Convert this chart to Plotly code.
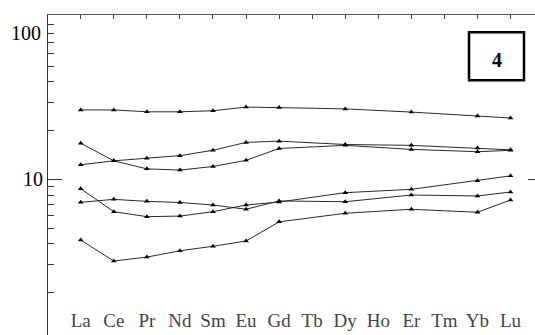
import math
import plotly.graph_objects as go

elements = ["La", "Ce", "Pr", "Nd", "Sm", "Eu", "Gd", "Tb", "Dy", "Ho", "Er", "Tm", "Yb", "Lu"]
# Tb, Ho, Tm not analysed (None = gap bridged)
series_a = [26.8, 26.8, 26.1, 26.1, 26.5, 27.9, 27.7, None, 27.2, None, 26.0, None, 24.6, 23.9]
series_b = [16.7, 13.0, 11.6, 11.4, 12.0, 13.1, 15.5, None, 16.2, None, 15.3, None, 14.8, 15.1]
series_c = [12.3, 13.0, 13.5, 14.0, 15.1, 16.9, 17.2, None, 16.4, None, 16.2, None, 15.6, 15.2]
series_d = [8.75, 6.31, 5.88, 5.93, 6.31, 6.94, 7.24, None, 8.27, None, 8.67, None, 9.80, 10.5]
series_e = [7.21, 7.52, 7.31, 7.19, 6.94, 6.53, 7.35, None, 7.27, None, 8.00, None, 7.89, 8.35]
series_f = [4.22, 3.13, 3.31, 3.62, 3.86, 4.16, 5.46, None, 6.17, None, 6.53, None, 6.26, 7.45]
all_series = [series_a, series_b, series_c, series_d, series_e, series_f]

y_major = [10]
y_minor = [2, 3, 4, 5, 6, 7, 8, 9, 20, 30, 40, 50, 60, 70, 80, 90]
panel_label = "4"

FONT = "Liberation Serif, Times New Roman, serif"
idx = list(range(len(elements)))

fig = go.Figure()
for s in all_series:
    fig.add_trace(go.Scatter(
        x=idx, y=s, mode="lines+markers", connectgaps=True,
        line=dict(color="#2a2a2a", width=1),
        marker=dict(symbol="triangle-up", size=5, color="black"),
        showlegend=False, hoverinfo="skip"))
# invisible trace to anchor top x axis / right y axis
fig.add_trace(go.Scatter(x=[0], y=[10], xaxis="x2", yaxis="y2", mode="markers",
                         marker=dict(opacity=0), showlegend=False, hoverinfo="skip"))

yr = [1 - 155.7 / 162, 1 + 164.3 / 162]
xr = [-0.99, 13.74]

fig.update_layout(
    width=535, height=335,
    margin=dict(l=48, r=0, t=15, b=0, autoexpand=False),
    paper_bgcolor="white", plot_bgcolor="white",
    font=dict(family=FONT, color="black"),
    xaxis=dict(range=xr, tickmode="array", tickvals=idx, ticktext=elements,
               showgrid=False, zeroline=False, showline=False, ticks="",
               automargin=False, ticklabelposition="inside", ticklabelstandoff=1,
               tickfont=dict(size=19, family=FONT)),
    xaxis2=dict(range=xr, overlaying="x", side="top", anchor="y", tickmode="array",
                tickvals=idx, showticklabels=False, ticks="inside", ticklen=4,
                tickcolor="#444", showline=True, linecolor="#555", linewidth=1,
                showgrid=False, zeroline=False, automargin=False),
    yaxis=dict(type="log", range=yr, tickmode="array", tickvals=y_major,
               ticktext=["10"], ticks="inside", ticklen=14, tickcolor="#333",
               showline=True, linecolor="#333", linewidth=1, showgrid=False,
               zeroline=False, automargin=False, tickfont=dict(size=20, family=FONT),
               minor=dict(tickvals=y_minor, ticks="inside", ticklen=6, tickcolor="#333", showgrid=False)),
    yaxis2=dict(type="log", range=yr, overlaying="y", side="right", anchor="x",
                tickmode="array", tickvals=y_major, showticklabels=False,
                ticks="inside", ticklen=7, tickcolor="#333", showline=False,
                showgrid=False, zeroline=False, automargin=False),
    shapes=[dict(type="rect", xref="paper", yref="paper",
                 x0=0.8645, x1=0.9774, y0=0.796, y1=0.946,
                 line=dict(color="black", width=2.5), fillcolor="white")],
    annotations=[
        dict(text="100", xref="paper", yref="y", x=0, y=math.log10(80),
             xanchor="right", yanchor="middle", xshift=-5, showarrow=False,
             font=dict(size=20, family=FONT)),
        dict(text="<b>" + panel_label + "</b>", xref="paper", yref="paper",
             x=0.921, y=0.858, xanchor="center", yanchor="middle",
             showarrow=False, font=dict(size=20, family=FONT)),
    ],
)

fig.write_html("out.html", config={"displayModeBar": False},
               post_script="document.body.style.margin='0px';document.body.style.overflow='hidden';")
